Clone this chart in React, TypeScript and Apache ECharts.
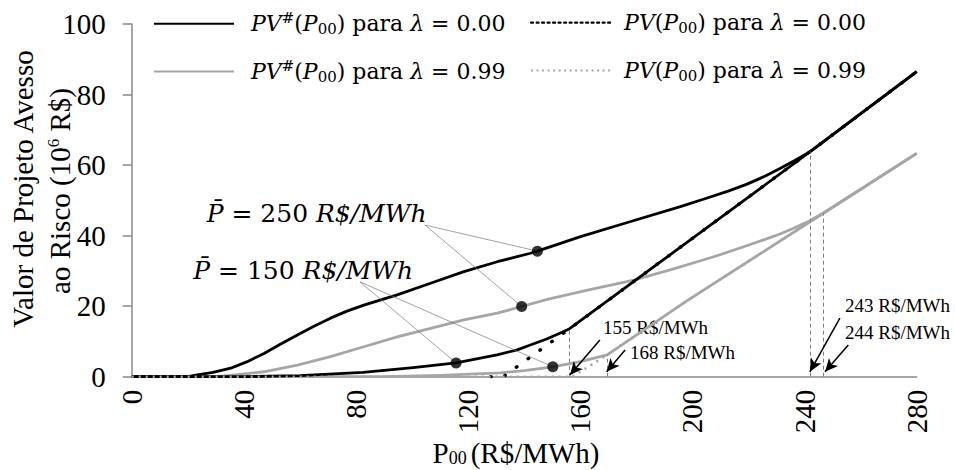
import React, { useEffect, useRef } from "react";
import * as echarts from "echarts";

// ---------- data ----------
const xRange = [0, 280];
const xStep = 40;
const yRange = [0, 100];
const yStep = 20;

const N_H0 = "PV#(P00) para λ = 0.00";
const N_V0 = "PV(P00) para λ = 0.00";
const N_H99 = "PV#(P00) para λ = 0.99";
const N_V99 = "PV(P00) para λ = 0.99";

// PV#(P00), λ = 0.00, P̄ = 250
const hash0High: number[][] = [
  [0, 0], [20, 0], [23.4, 0.5], [29, 1.2], [35.3, 2.4], [41, 4.2], [47.2, 6.6], [53, 9.2], [59.1, 11.8],
  [65, 14.3], [70.9, 16.6], [76.8, 18.6], [82.8, 20.3], [94.7, 23.2], [106.6, 26.5], [118.5, 29.8],
  [130.4, 32.6], [142.2, 35.0], [144.7, 35.6], [160.1, 39.7], [178, 44], [195.7, 48.2], [205, 50.6],
  [213, 52.7], [219.5, 54.6], [226, 56.9], [231.4, 59.1], [236.5, 61.3], [242, 63.8], [280, 86.5],
];
// PV#(P00), λ = 0.00, P̄ = 150
const hash0Low: number[][] = [
  [0, 0], [40, 0], [60, 0.3], [82.5, 1.2], [100.4, 2.6], [115.7, 3.9], [130.3, 6.2],
  [137.5, 7.6], [142.2, 9.0], [148, 10.7], [152.9, 12.4], [156.2, 13.6], [242, 63.8], [280, 86.5],
];
// PV(P00), λ = 0.00
const pv0: number[][] = [[128, 0], [132.5, 0], [156.2, 13.6], [242, 63.8], [280, 86.5]];

// PV#(P00), λ = 0.99, P̄ = 250
const hash99High: number[][] = [
  [0, 0], [30, 0], [35.3, 0.4], [47.1, 1.4], [59.1, 3.3], [70.9, 5.7], [82.8, 8.5], [94.7, 11.3],
  [106.6, 13.7], [118.5, 16.1], [130.4, 18.0], [139.1, 19.9], [148.2, 21.9], [163, 24.6], [179.1, 27.4],
  [193, 30.5], [207.6, 34.0], [217, 36.5], [225.4, 38.8], [231, 40.4], [236.1, 42.1], [241.5, 44.1],
  [246.8, 46.4], [280, 63.3],
];
// PV#(P00), λ = 0.99, P̄ = 150
const hash99Low: number[][] = [
  [0, 0], [90, 0], [110, 0.4], [131.5, 1.1], [140, 1.7], [150.2, 2.8], [160, 4.3], [169.6, 6.2],
  [198, 21.5], [246.8, 46.4], [280, 63.3],
];
// PV(P00), λ = 0.99
const pv99: number[][] = [[0, 0], [157, 0], [163, 2.9], [169.6, 6.2], [198, 21.5], [246.8, 46.4], [280, 63.3]];

// highlighted points
const dots: number[][] = [[144.7, 35.6], [139.1, 19.9], [115.7, 3.9], [150.2, 2.8]];

// threshold prices: x and the height of the dashed line
const thresholds: number[][] = [[156.2, 13.6], [169.6, 6.2], [241.9, 63.8], [246.8, 46.4]];
const thresholdLabels = ["155 R$/MWh", "168 R$/MWh", "243 R$/MWh", "244 R$/MWh"];
// arrow tails (data coords) and heads
const arrowTails: number[][] = [[167.0, 10.4], [176.0, 7.6], [252.6, 16.6], [255.6, 9.0]];
const arrowHeads: number[][] = [[156.3, 0.5], [169.4, 1.4], [241.9, 1.4], [247.3, 1.4]];

// P̄ annotations
const priceLabels = ["250", "150"];
const leaderFrom: number[][] = [[104.6, 43.0], [81.4, 26.9]];

// ---------- style ----------
const BLACK = "#000000";
const GRAY = "#a6a6a6";
const AXIS = "#898989";
const SERIF = "Liberation Serif";
const MATH = "DejaVu Serif";

function legendRich(padLeft: number) {
  const base = { fontFamily: MATH, fontSize: 22, color: BLACK, lineHeight: 26 };
  return {
    i0: { ...base, fontStyle: "italic", padding: [0, 0, 0, padLeft] },
    i: { ...base, fontStyle: "italic" },
    n: { ...base },
    s: { ...base, fontSize: 15, padding: [0, 0, 12, 0] },
    b: { ...base, fontSize: 15, padding: [10, 0, 0, 0] },
  };
}
function legendText(name: string) {
  const hash = name.startsWith("PV#");
  const lam = name.endsWith("0.99") ? "0.99" : "0.00";
  return (
    "{i0|PV}" + (hash ? "{s|#}" : "") + "{n|(}{i|P}{b|00}{n|) para }{i|λ}{n| = " + lam + "}"
  );
}

export default function App() {
  const ref = useRef<HTMLDivElement>(null);
  useEffect(() => {
    document.body.style.margin = "0";
    if (!ref.current) return;
    const chart = echarts.init(ref.current, undefined, { renderer: "svg" });

    const lineS = (name: string, data: number[][], color: string, z: number, dotted?: number[]) => ({
      type: "line",
      name,
      data,
      symbol: "none",
      showSymbol: false,
      z,
      silent: true,
      itemStyle: { color },
      lineStyle: dotted
        ? { color, width: dotted[2], type: [dotted[0], dotted[1]], cap: dotted[3] ? "round" : "butt" }
        : { color, width: 2.8, join: "round" },
    });

    const markData: any[] = [];
    const leaderStyle = { color: "#7a7a7a", width: 0.7, type: "solid" };
    leaderFrom.forEach((from, k) => {
      [dots[k * 2], dots[k * 2 + 1]].forEach((to) => {
        markData.push([
          { coord: from, symbol: "none", lineStyle: leaderStyle },
          { coord: to, symbol: "none", lineStyle: leaderStyle },
        ]);
      });
    });
    const dashStyle = { color: "#7f7f7f", width: 1, type: [4, 3] };
    thresholds.forEach((t) => {
      markData.push([
        { coord: [t[0], 0], symbol: "none", lineStyle: dashStyle },
        { coord: [t[0], t[1]], symbol: "none", lineStyle: dashStyle },
      ]);
    });
    const arrowStyle = { color: BLACK, width: 1.5, type: "solid" };
    arrowTails.forEach((tail, k) => {
      markData.push([
        { coord: tail, symbol: "none", lineStyle: arrowStyle },
        { coord: arrowHeads[k], symbol: "arrow", symbolSize: [9, 13], lineStyle: arrowStyle },
      ]);
    });

    const legendBase = {
      padding: 0,
      selectedMode: false,
      itemHeight: 14,
      itemStyle: { opacity: 0 },
      formatter: legendText,
    };

    const graphic: any[] = [];
    // P̄ labels
    const pPos = [[206.7, 213], [193.3, 270]];
    priceLabels.forEach((p, k) => {
      graphic.push({
        type: "text",
        x: pPos[k][0],
        y: pPos[k][1],
        silent: true,
        style: {
          text: "{i|P\u0304}{n| = " + p + " }{i|R$/MWh}",
          textAlign: "left",
          textVerticalAlign: "middle",
          rich: {
            i: { fontFamily: MATH, fontSize: 25, fontStyle: "italic", fill: BLACK },
            n: { fontFamily: MATH, fontSize: 25, fill: BLACK },
          },
        },
      });
    });
    // threshold labels
    const tPos = [[603, 327], [630, 352], [845, 305], [845, 332]];
    thresholdLabels.forEach((t, k) => {
      graphic.push({
        type: "text",
        x: tPos[k][0],
        y: tPos[k][1],
        silent: true,
        style: {
          text: t,
          fontFamily: SERIF,
          fontSize: 19,
          fill: BLACK,
          textAlign: "left",
          textVerticalAlign: "middle",
        },
      });
    });
    // y axis title (two lines)
    graphic.push({
      type: "text",
      x: 23,
      y: 189,
      rotation: Math.PI / 2,
      silent: true,
      style: {
        text: "Valor de Projeto Avesso",
        fontFamily: SERIF,
        fontSize: 29,
        fill: BLACK,
        textAlign: "center",
        textVerticalAlign: "middle",
      },
    });
    graphic.push({
      type: "text",
      x: 60,
      y: 191,
      rotation: Math.PI / 2,
      silent: true,
      style: {
        text: "{a|ao Risco (10}{s|6}{a| R$)}",
        textAlign: "center",
        textVerticalAlign: "middle",
        rich: {
          a: { fontFamily: SERIF, fontSize: 29, fill: BLACK, lineHeight: 32 },
          s: { fontFamily: SERIF, fontSize: 17, fill: BLACK, lineHeight: 32, padding: [0, 0, 14, 0] },
        },
      },
    });
    // x axis title
    graphic.push({
      type: "text",
      x: 516,
      y: 453,
      silent: true,
      style: {
        text: "{a|P}{b|00}{c|(R$/MWh)}",
        textAlign: "center",
        textVerticalAlign: "middle",
        rich: {
          a: { fontFamily: SERIF, fontSize: 29, fill: BLACK, lineHeight: 28 },
          b: { fontFamily: SERIF, fontSize: 18, fill: BLACK, lineHeight: 28, padding: [10, 0, 0, 0] },
          c: { fontFamily: SERIF, fontSize: 29, fill: BLACK, lineHeight: 28, padding: [0, 0, 0, 4] },
        },
      },
    });

    chart.setOption({
      animation: false,
      backgroundColor: "#ffffff",
      grid: { left: 131.7, right: 38.3, top: 24, bottom: 93.3 },
      xAxis: {
        type: "value",
        min: xRange[0],
        max: xRange[1],
        interval: xStep,
        splitLine: { show: false },
        axisTick: { show: false },
        axisLine: { show: true, lineStyle: { color: AXIS, width: 1.5 } },
        axisLabel: { rotate: 90, margin: 13, fontFamily: SERIF, fontSize: 29, color: BLACK },
      },
      yAxis: {
        type: "value",
        min: yRange[0],
        max: yRange[1],
        interval: yStep,
        splitLine: { show: false },
        axisTick: { show: true, length: 9, lineStyle: { color: AXIS, width: 1.5 } },
        axisLine: { show: true, lineStyle: { color: AXIS, width: 1.5 } },
        axisLabel: { margin: 26, fontFamily: SERIF, fontSize: 29, color: BLACK },
      },
      legend: [
        { ...legendBase, data: [N_H0], left: 153, top: 10.2, itemWidth: 80, textStyle: { rich: legendRich(12) } },
        { ...legendBase, data: [N_H99], left: 153, top: 58, itemWidth: 80, textStyle: { rich: legendRich(12) } },
        {
          ...legendBase, data: [N_V0], left: 530, top: 10.2, itemWidth: 80,
          lineStyle: { type: [2, 3.5], width: 2.2, color: BLACK }, textStyle: { rich: legendRich(8) },
        },
        {
          ...legendBase, data: [N_V99], left: 530, top: 58, itemWidth: 80,
          lineStyle: { type: [2, 3.5], width: 2.2, color: GRAY }, textStyle: { rich: legendRich(8) },
        },
      ],
      series: [
        lineS(N_H99, hash99High, GRAY, 2),
        lineS(N_H99, hash99Low, GRAY, 2),
        lineS(N_H0, hash0High, BLACK, 3),
        lineS(N_H0, hash0Low, BLACK, 3),
        lineS(N_V0, pv0, BLACK, 4, [0.5, 14, 3.5, 1]),
        lineS(N_V99, pv99, GRAY, 5, [2, 5, 2.5, 0]),
        {
          type: "scatter",
          data: dots,
          symbolSize: 11,
          z: 6,
          silent: true,
          itemStyle: { color: BLACK },
          markLine: {
            silent: true,
            animation: false,
            label: { show: false },
            data: markData,
          },
        },
      ],
      graphic,
    });
    return () => chart.dispose();
  }, []);
  return <div ref={ref} style={{ width: 955, height: 470 }} />;
}
